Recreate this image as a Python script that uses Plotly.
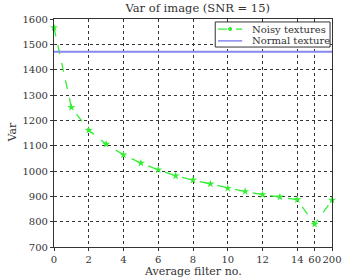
import plotly.graph_objects as go

x_pos = list(range(17))
tick_vals = [0, 2, 4, 6, 8, 10, 12, 14, 15, 16]
tick_text = ["0", "2", "4", "6", "8", "10", "12", "14", "60", "200"]
noisy_var = [1566, 1251, 1161, 1106, 1064, 1031, 1005, 981, 964, 949,
             932, 919, 907, 898, 887, 790, 885]
normal_var = 1471
series_names = ["Noisy textures", "Normal texture"]

FONT = "DejaVu Serif"
TXT = "#333333"
GREEN = "#33ee33"
BLUE = "#8888ee"

fig = go.Figure()
fig.add_trace(go.Scatter(
    x=x_pos, y=noisy_var, mode="lines+markers", name=series_names[0],
    line=dict(color=GREEN, width=1.3, dash="dash"),
    marker=dict(symbol="star", size=6, color=GREEN),
    cliponaxis=False,
))
fig.add_trace(go.Scatter(
    x=[0, 16], y=[normal_var, normal_var], mode="lines", name=series_names[1],
    line=dict(color=BLUE, width=2),
))

axis_common = dict(
    showline=True, linecolor=TXT, linewidth=1.2, mirror=True,
    showgrid=True, gridcolor=TXT, griddash="dot", gridwidth=1,
    zeroline=False, ticks="outside", ticklen=3, tickcolor=TXT,
    tickfont=dict(family=FONT, size=10, color=TXT),
)

# compact legend box (paper coordinates)
lx0, lx1, ly0, ly1 = 0.580, 0.993, 0.877, 0.987
row_y = [0.956, 0.904]
shapes = [dict(type="rect", xref="paper", yref="paper", x0=lx0, x1=lx1,
               y0=ly0, y1=ly1, line=dict(color=TXT, width=1),
               fillcolor="white", layer="above")]
shapes.append(dict(type="line", xref="paper", yref="paper", x0=0.590, x1=0.677,
                   y0=row_y[0], y1=row_y[0], line=dict(color=GREEN, width=1.3, dash="dash"),
                   layer="above"))
shapes.append(dict(type="circle", xref="paper", yref="paper", x0=0.628, x1=0.639,
                   y0=row_y[0] - 0.007, y1=row_y[0] + 0.007,
                   line=dict(color=GREEN, width=1), fillcolor=GREEN, layer="above"))
shapes.append(dict(type="line", xref="paper", yref="paper", x0=0.590, x1=0.677,
                   y0=row_y[1], y1=row_y[1], line=dict(color=BLUE, width=1.5),
                   layer="above"))

annotations = [
    dict(text="Average filter no.", xref="paper", yref="paper",
         x=0.5, y=(247 - 271) / 228, xanchor="center", yanchor="middle",
         showarrow=False, font=dict(family=FONT, size=11, color=TXT)),
    dict(text="Var", xref="paper", yref="paper", textangle=-90,
         x=(10 - 54) / 288, y=0.5, xanchor="center", yanchor="middle",
         showarrow=False, font=dict(family=FONT, size=11, color=TXT)),
]
for name, ry in zip(series_names, row_y):
    annotations.append(dict(text=name, xref="paper", yref="paper", x=0.708, y=ry,
                            xanchor="left", yanchor="middle", showarrow=False,
                            borderpad=0,
                            font=dict(family=FONT, size=10, color=TXT)))

fig.update_layout(
    width=350, height=279,
    margin=dict(l=54, r=8, t=19, b=32),
    paper_bgcolor="white", plot_bgcolor="white",
    font=dict(family=FONT, color=TXT),
    title=dict(text="Var of image (SNR = 15)", x=0.565, xanchor="center",
               y=1 - 8 / 279, yanchor="middle",
               font=dict(family=FONT, size=11.5, color=TXT)),
    xaxis=dict(range=[0, 16], tickmode="array", tickvals=tick_vals,
               ticktext=tick_text, ticklabeloverflow="allow", tickangle=0,
               **axis_common),
    yaxis=dict(range=[700, 1600], dtick=100, **axis_common),
    showlegend=False,
    shapes=shapes,
    annotations=annotations,
)

fig.write_html("out.html")
